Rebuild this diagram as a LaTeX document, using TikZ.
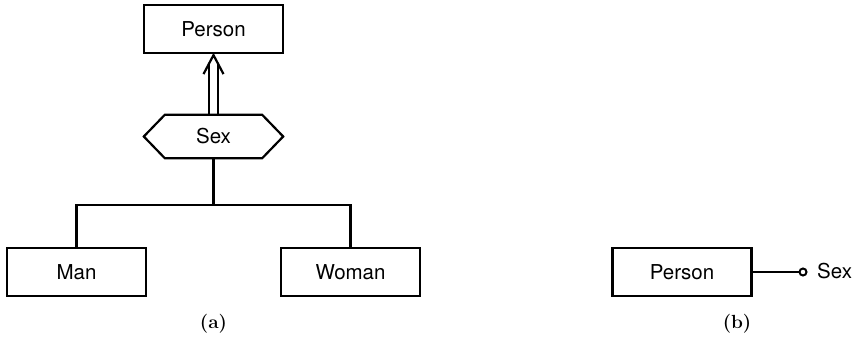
\documentclass[tikz,border=0pt]{standalone}
\usepackage{fontspec}
\setsansfont{TeX Gyre Heros}
\usetikzlibrary{calc}
\begin{document}
\begin{tikzpicture}[x=1pt,y=-1pt,
  ent/.style={draw, line width=2.2pt, minimum width=139pt, minimum height=48pt, inner sep=0pt, font=\sffamily\fontsize{20.5}{22}\selectfont},
  lab/.style={font=\bfseries\fontsize{19}{21}\selectfont},
  ln/.style={line width=2.2pt}]
\useasboundingbox (0,0) rectangle (856,338);
\node[ent] (person) at (213.5,29) {Person};
\node[minimum width=139pt, minimum height=43pt, inner sep=0pt, font=\sffamily\fontsize{20.5}{22}\selectfont] (sex) at (213.5,136.5) {Sex};
\draw[ln, line join=miter] (sex.west) -- ([xshift=21pt]sex.north west) -- ([xshift=-21pt]sex.north east) -- (sex.east) -- ([xshift=-21pt]sex.south east) -- ([xshift=21pt]sex.south west) -- cycle;
\node[ent] (man) at (76.5,272) {Man};
\node[ent] (woman) at (350.5,272) {Woman};
\coordinate (j) at (213.5,205);
% double arrow
\draw[ln] ([xshift=-4.5pt]sex.north) -- ([xshift=-4.5pt,yshift=-9pt]person.south);
\draw[ln] ([xshift=4.5pt]sex.north) -- ([xshift=4.5pt,yshift=-9pt]person.south);
\draw[ln, line join=miter] ([xshift=-10pt,yshift=-20pt]person.south) -- ([yshift=-1pt]person.south) -- ([xshift=10pt,yshift=-20pt]person.south);
% tree
\draw[ln] (sex.south) -- (j);
\draw[ln] (man.north) |- (j) -| (woman.north);
\node[lab] (la) at (213.5,324) {(a)};
% (b)
\node[ent] (person2) at (682,272) {Person};
\node[draw, circle, line width=2pt, minimum size=7pt, inner sep=0pt] (c) at (803,272) {};
\draw[ln] (person2.east) -- (c.west);
\node[font=\sffamily\fontsize{20.5}{22}\selectfont, anchor=west, inner sep=0pt] (sexb) at (817,271) {Sex};
\node[lab] (lb) at (737,324) {(b)};
\end{tikzpicture}
\end{document}
